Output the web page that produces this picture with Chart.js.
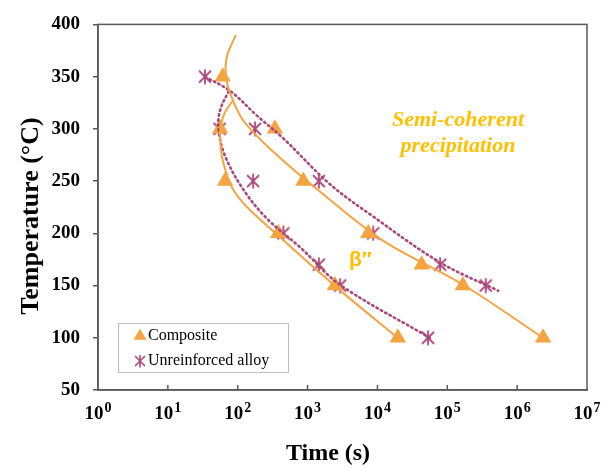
<!DOCTYPE html>
<html>
<head>
<meta charset="utf-8">
<script src="https://cdn.jsdelivr.net/npm/chart.js@4.4.0/dist/chart.umd.min.js"></script>
<style>
  body{margin:0;background:#fff;}
  canvas{display:block;}
</style>
</head>
<body>
<canvas id="my-chart" width="610" height="468"></canvas>
<script>
'use strict';

// *********** DATA ****************

// composite (triangles) - two C-curves, time in s, temperature in °C
let compUpperTemp = [350, 300, 250, 200, 170, 150, 100];
let compUpperTime = [61, 340, 870, 7400, 43000, 167000, 2350000];
let compLowerTemp = [300, 250, 200, 150, 100];
let compLowerTime = [56, 66, 380, 2460, 19600];

// unreinforced alloy (stars)
let alloyUpperTemp = [350, 300, 250, 200, 170, 150];
let alloyUpperTime = [34, 177, 1450, 8700, 79000, 356000];
let alloyLowerTemp = [300, 250, 200, 170, 150, 100];
let alloyLowerTime = [55, 166, 450, 1450, 2930, 53000];

// fitted curves
let compUpperCurveTime = [94, 70, 68, 80, 120, 300, 1500, 12000, 166000, 2340000];
let compUpperCurveTemp = [390, 369, 350, 332, 308, 280, 240, 193, 151, 100];
let compLowerCurveTime = [85, 64, 56, 62, 98, 363, 2630, 19500];
let compLowerCurveTemp = [327, 314, 296, 268, 236, 199, 148, 100];
let alloyUpperCurveTime = [34, 79, 186, 447, 2090, 8300, 79400, 537000];
let alloyUpperCurveTemp = [350, 336, 313, 291, 247, 217, 172, 145];
let alloyLowerCurveTime = [74, 56, 53, 66, 120, 263, 800, 2880, 56200];
let alloyLowerCurveTemp = [336, 318, 300, 274, 242, 214, 186, 151, 100];

let xTickValues = [1, 10, 100, 1000, 10000, 100000, 1000000, 10000000];
let xTickExps = ['0', '1', '2', '3', '4', '5', '6', '7'];
let legendLabels = ['Composite', 'Unreinforced alloy'];

// ********** STYLE ****************

let orange = '#F4A440';
let purple = '#A9497B';
let gold = '#FFC000';
let frameColor = '#595959';
let serif = '"Liberation Serif", "Times New Roman", serif';

// ********** HELPERS ****************

function toPoints(times, temps){
  let pts = [];
  for(let i=0;i<times.length;i++){
    pts.push({x: times[i], y: temps[i]});
  }
  return pts;
}

// excel-like star marker: X with a vertical bar
function makeStar(){
  let c = document.createElement('canvas');
  c.width = 16;
  c.height = 16;
  let g = c.getContext('2d');
  g.strokeStyle = purple;
  g.lineWidth = 1.8;
  g.beginPath();
  g.moveTo(2, 2); g.lineTo(14, 14);
  g.moveTo(14, 2); g.lineTo(2, 14);
  g.moveTo(8, 0.5); g.lineTo(8, 15.5);
  g.stroke();
  return c;
}
let starImg = makeStar();

function curveSet(times, temps, color, dashed){
  return {
    data: toPoints(times, temps),
    showLine: true,
    borderColor: color,
    borderWidth: dashed ? 2.6 : 2,
    borderDash: dashed ? [1.5, 3.5] : [],
    borderCapStyle: dashed ? 'round' : 'butt',
    tension: 0.35,
    pointRadius: 0,
    fill: false
  };
}

function triSet(times, temps){
  return {
    data: toPoints(times, temps),
    showLine: false,
    pointStyle: 'triangle',
    pointRadius: 9.5,
    backgroundColor: orange,
    borderColor: orange,
    borderWidth: 0
  };
}

function starSet(times, temps){
  return {
    data: toPoints(times, temps),
    showLine: false,
    pointStyle: starImg,
    pointRadius: 8
  };
}

// ********** PLUGIN: frame, x labels, titles, legend, notes ********

let decorPlugin = {
  id: 'decor',
  afterDraw(chart){
    let ctx = chart.ctx;
    let area = chart.chartArea;
    let xs = chart.scales.x;
    ctx.save();

    // frame
    ctx.strokeStyle = frameColor;
    ctx.lineWidth = 1.5;
    ctx.strokeRect(area.left, area.top, area.right - area.left, area.bottom - area.top);

    // x tick marks (inside) and 10^n labels
    ctx.fillStyle = '#000';
    for(let i=0;i<xTickValues.length;i++){
      let px = xs.getPixelForValue(xTickValues[i]);
      if(i>0 && i<xTickValues.length-1){
        ctx.beginPath();
        ctx.moveTo(px, area.bottom);
        ctx.lineTo(px, area.bottom - 5);
        ctx.stroke();
      }
      ctx.font = 'bold 19px ' + serif;
      let w1 = ctx.measureText('10').width;
      ctx.font = 'bold 14px ' + serif;
      let w2 = ctx.measureText(xTickExps[i]).width;
      let left = px - (w1 + w2 + 1) / 2;
      ctx.textAlign = 'left';
      ctx.textBaseline = 'alphabetic';
      ctx.font = 'bold 19px ' + serif;
      ctx.fillText('10', left, 419);
      ctx.font = 'bold 14px ' + serif;
      ctx.fillText(xTickExps[i], left + w1 + 1, 412);
    }

    // axis titles
    ctx.font = 'bold 24px ' + serif;
    ctx.textAlign = 'center';
    ctx.textBaseline = 'alphabetic';
    ctx.fillText('Time (s)', 328, 460);
    ctx.save();
    ctx.translate(31, 216);
    ctx.rotate(-Math.PI / 2);
    ctx.textBaseline = 'middle';
    ctx.font = 'bold 26px ' + serif;
    ctx.fillText('Temperature (°C)', 0, 0);
    ctx.restore();

    // legend
    ctx.fillStyle = '#fff';
    ctx.fillRect(118.5, 323.5, 170, 49);
    ctx.strokeStyle = '#BFBFBF';
    ctx.lineWidth = 1;
    ctx.strokeRect(118.5, 323.5, 170, 49);
    ctx.fillStyle = orange;
    ctx.strokeStyle = orange;
    Chart.helpers.drawPoint(ctx, {pointStyle: 'triangle', radius: 7.5, borderWidth: 0, rotation: 0}, 140, 336);
    ctx.drawImage(starImg, 140 - 6.5, 361 - 6.5, 13, 13);
    ctx.fillStyle = '#000';
    ctx.font = '16px ' + serif;
    ctx.textAlign = 'left';
    ctx.textBaseline = 'middle';
    ctx.fillText(legendLabels[0], 148, 336);
    ctx.fillText(legendLabels[1], 148, 361);

    // notes
    ctx.fillStyle = gold;
    ctx.font = 'italic bold 22px ' + serif;
    ctx.textAlign = 'center';
    ctx.textBaseline = 'alphabetic';
    ctx.fillText('Semi-coherent', 458, 126);
    ctx.fillText('precipitation', 458, 152);
    ctx.font = 'bold 21px "Liberation Sans", Arial, sans-serif';
    ctx.textAlign = 'left';
    ctx.fillText('β′′', 349, 266);

    ctx.restore();
  }
};

// *********** RENDER CHART ****************

let ctx = document.getElementById('my-chart').getContext('2d');

let myChartObj = {
  type: 'scatter',
  data: {
    datasets: [
      curveSet(compUpperCurveTime, compUpperCurveTemp, orange, false),
      curveSet(compLowerCurveTime, compLowerCurveTemp, orange, false),
      curveSet(alloyUpperCurveTime, alloyUpperCurveTemp, purple, true),
      curveSet(alloyLowerCurveTime, alloyLowerCurveTemp, purple, true),
      triSet(compUpperTime, compUpperTemp),
      triSet(compLowerTime, compLowerTemp),
      starSet(alloyUpperTime, alloyUpperTemp),
      starSet(alloyLowerTime, alloyLowerTemp)
    ]
  },
  options: {
    responsive: false,
    animation: false,
    layout: {padding: {left: 0, right: 23, top: 20, bottom: 0}},
    plugins: {
      legend: {display: false},
      tooltip: {enabled: false}
    },
    scales: {
      x: {
        type: 'logarithmic',
        min: 1,
        max: 10000000,
        grid: {display: false},
        border: {display: true, color: frameColor, width: 1.5},
        ticks: {display: false},
        afterFit(scale){ scale.height = 78; }
      },
      y: {
        min: 50,
        max: 400,
        grid: {drawOnChartArea: false, drawTicks: true, tickLength: 5, color: frameColor, lineWidth: 1.5},
        border: {display: true, color: frameColor, width: 1.5},
        ticks: {
          stepSize: 50,
          padding: 13,
          color: '#000',
          font: {family: serif, size: 19, weight: 'bold'}
        },
        afterFit(scale){ scale.width = 98; }
      }
    }
  },
  plugins: [decorPlugin]
};

new Chart(ctx, myChartObj);
</script>
</body>
</html>
